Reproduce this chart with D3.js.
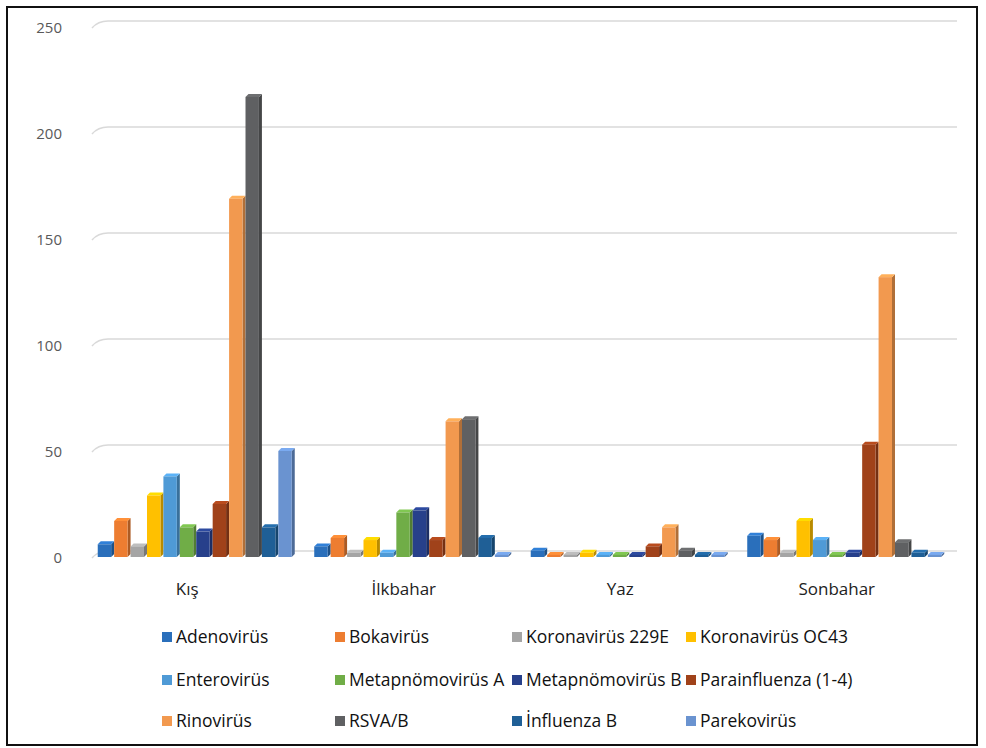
<!DOCTYPE html>
<html>
<head>
<meta charset="utf-8">
<script src="https://cdn.jsdelivr.net/npm/d3@7.9.0/dist/d3.min.js"></script>
<style>
  body { margin: 0; background: #fff; }
  svg { display: block; font-family: "Open Sans", "DejaVu Sans", sans-serif; }
</style>
</head>
<body>
<svg id="chart" width="986" height="748"></svg>
<script>
// categories and series
const seasons = ["Kış", "İlkbahar", "Yaz", "Sonbahar"];
const viruses = ["Adenovirüs", "Bokavirüs", "Koronavirüs 229E", "Koronavirüs OC43",
  "Enterovirüs", "Metapnömovirüs A", "Metapnömovirüs B", "Parainfluenza (1-4)",
  "Rinovirüs", "RSVA/B", "İnfluenza B", "Parekovirüs"];
const virusColors = ["#2a6fbb", "#ed7d31", "#a5a5a5", "#ffc000", "#4f9ad6", "#70ad47",
  "#27408b", "#a0421a", "#f2994f", "#5f6062", "#1f5f96", "#6a93d0"];

// counts per season, same order as viruses
const kis = [6, 17, 5, 29, 38, 14, 12, 25, 169, 217, 14, 50];
const ilkbahar = [5, 9, 2, 8, 2, 21, 22, 8, 64, 65, 9, 1];
const yaz = [3, 1, 1, 2, 1, 1, 1, 5, 14, 3, 1, 1];
const sonbahar = [10, 8, 2, 17, 8, 1, 2, 53, 132, 7, 2, 1];
const seasonValues = [kis, ilkbahar, yaz, sonbahar];

const yTicks = [0, 50, 100, 150, 200, 250];

const svg = d3.select("#chart");

// frame round the picture
svg.append("rect")
  .attr("x", 7).attr("y", 7).attr("width", 970).attr("height", 738)
  .attr("fill", "none").attr("stroke", "#111").attr("stroke-width", 2);

const y = d3.scaleLinear().domain([0, 250]).range([551, 21]);
const front = 6; // floor sits a bit lower than the back wall

const x0 = d3.scaleBand().domain(seasons).range([88, 954])
  .paddingInner(0.09).paddingOuter(0.045);
const x1 = d3.scaleBand().domain(viruses).range([0, x0.bandwidth()]);

// gridlines on the back wall, with the little 3D bend on the left
const grid = svg.append("g");
yTicks.forEach(t => {
  const gy = y(t);
  grid.append("path")
    .attr("d", `M92,${gy + 7} Q98,${gy} 108,${gy} L957,${gy}`)
    .attr("fill", "none").attr("stroke", "#d9d9d9").attr("stroke-width", 1.5);
  grid.append("text")
    .attr("x", 62).attr("y", gy + 12)
    .attr("text-anchor", "end")
    .attr("font-size", 15).attr("fill", "#595959")
    .text(t);
});

// bars, drawn as simple 3D columns
const d = 3;
const bars = svg.append("g");
seasons.forEach((s, si) => {
  const g = bars.append("g").attr("transform", `translate(${x0(s)},0)`);
  seasonValues[si].forEach((v, vi) => {
    const col = d3.color(virusColors[vi]);
    const bx = x1(viruses[vi]);
    const w = x1.bandwidth();
    const base = y(0) + front;
    const top = y(v) + front;
    // right side
    g.append("path")
      .attr("d", `M${bx + w - d},${top} L${bx + w},${top - d} L${bx + w},${base - d} L${bx + w - d},${base} Z`)
      .attr("fill", col.darker(0.9));
    // top
    g.append("path")
      .attr("d", `M${bx},${top} L${bx + d},${top - d} L${bx + w},${top - d} L${bx + w - d},${top} Z`)
      .attr("fill", col.brighter(0.4));
    // front
    g.append("rect")
      .attr("x", bx).attr("y", top)
      .attr("width", w - d).attr("height", Math.max(0, base - top))
      .attr("fill", col);
  });
});

// category labels
svg.append("g").selectAll("text")
  .data(seasons)
  .join("text")
  .attr("x", s => x0(s) + x0.bandwidth() / 2 - 9)
  .attr("y", 595)
  .attr("text-anchor", "middle")
  .attr("font-size", 17).attr("fill", "#222")
  .text(s => s);

// legend, 4 columns x 3 rows
const legX = [162, 335, 512, 686];
const legY = [637, 680, 721];
const legend = svg.append("g");
viruses.forEach((name, i) => {
  const lx = legX[i % 4], ly = legY[Math.floor(i / 4)];
  legend.append("rect")
    .attr("x", lx).attr("y", ly - 5).attr("width", 10).attr("height", 10)
    .attr("fill", virusColors[i]);
  legend.append("text")
    .attr("x", lx + 14).attr("y", ly + 6)
    .attr("font-size", 17.5).attr("fill", "#111")
    .text(name);
});
</script>
</body>
</html>
